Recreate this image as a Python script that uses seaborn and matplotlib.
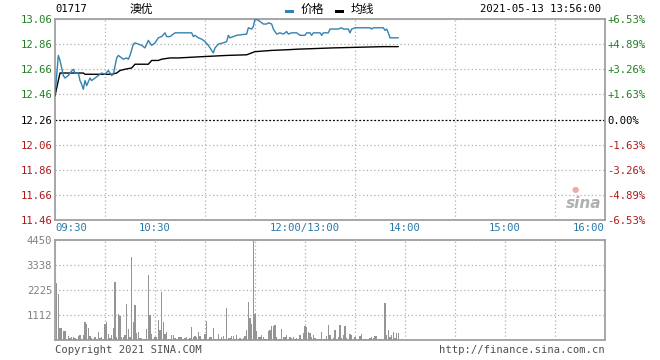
import matplotlib
matplotlib.use("Agg")
import matplotlib.pyplot as plt
import seaborn as sns
from matplotlib.patches import Rectangle

# ----------------------------
# Data
# ----------------------------
prev_close = 12.26

# trading minutes since 09:30 (lunch 12:00-13:00 removed)
price_min = [0, 2, 3, 5, 6, 8, 9, 11, 12, 14, 15, 16, 17, 18, 19, 21, 22, 24, 26, 28,
             30, 32, 34, 35, 37, 38, 41, 43, 44, 45, 47, 48, 50, 52, 54, 56, 58, 60, 62, 64,
             66, 67, 69, 72, 82, 83, 84, 86, 88, 90, 92, 94, 95, 96, 98, 101, 103, 104, 105, 109,
             115, 116, 118, 119, 120, 122, 125, 127, 128, 130, 131, 133, 135, 137, 139, 140, 142, 145, 147, 150,
             151, 153, 154, 155, 159, 160, 161, 164, 165, 170, 172, 173, 176, 177, 178, 180, 189, 190, 191, 197,
             198, 199, 200, 201, 206]
price_val = [12.45, 12.77, 12.73, 12.61, 12.59, 12.61, 12.63, 12.66, 12.63, 12.63, 12.57, 12.54, 12.50, 12.57, 12.53, 12.59, 12.57, 12.59, 12.61, 12.63,
             12.62, 12.65, 12.61, 12.62, 12.75, 12.77, 12.74, 12.75, 12.74, 12.77, 12.86, 12.87, 12.86, 12.85, 12.83, 12.89, 12.85, 12.87, 12.91, 12.92,
             12.95, 12.92, 12.92, 12.95, 12.95, 12.92, 12.93, 12.91, 12.90, 12.88, 12.85, 12.81, 12.79, 12.83, 12.86, 12.87, 12.88, 12.93, 12.91, 12.93,
             12.94, 12.99, 12.98, 13.00, 13.06, 13.05, 13.02, 13.02, 13.03, 13.02, 12.98, 12.94, 12.95, 12.94, 12.96, 12.94, 12.95, 12.95, 12.93, 12.93,
             12.95, 12.95, 12.93, 12.95, 12.95, 12.93, 12.95, 12.95, 12.98, 12.98, 12.99, 12.98, 12.98, 12.95, 12.98, 12.99, 12.99, 12.98, 12.99, 12.99,
             12.97, 12.98, 12.95, 12.91, 12.91]

avg_min = [0, 3, 17, 18, 34, 37, 39, 42, 46, 48, 56, 58, 62, 64, 69, 74, 88, 103, 115, 120,
           130, 139, 146, 167, 197, 206]
avg_val = [12.45, 12.63, 12.63, 12.62, 12.62, 12.63, 12.65, 12.66, 12.67, 12.70, 12.70, 12.73, 12.73, 12.74, 12.75, 12.75, 12.76, 12.77, 12.775, 12.80,
           12.81, 12.815, 12.82, 12.83, 12.84, 12.84]

# volume per minute, minutes 1..206
vol = [2550, 2050, 550, 550, 415, 415, 40, 180, 75, 120,
       150, 90, 40, 180, 220, 60, 220, 800, 710, 550,
       190, 100, 60, 150, 60, 370, 75, 120, 40, 710,
       800, 270, 100, 240, 530, 2580, 120, 1160, 1080, 120,
       150, 220, 1600, 490, 120, 3690, 800, 1560, 300, 360,
       100, 75, 45, 45, 500, 2890, 1110, 250, 45, 150,
       150, 890, 445, 2140, 800, 250, 360, 40, 40, 220,
       220, 75, 40, 130, 130, 130, 60, 100, 150, 45,
       75, 560, 120, 190, 150, 360, 190, 60, 45, 250,
       845, 60, 120, 120, 530, 60, 45, 250, 45, 150,
       180, 45, 1410, 90, 90, 180, 180, 45, 220, 45,
       75, 40, 100, 180, 445, 1680, 960, 710, 4450, 1160,
       415, 120, 150, 220, 120, 45, 40, 400, 445, 620,
       620, 670, 150, 45, 40, 490, 150, 120, 240, 60,
       150, 90, 150, 60, 90, 45, 220, 45, 300, 620,
       560, 370, 300, 120, 220, 75, 45, 45, 45, 360,
       45, 45, 180, 670, 220, 45, 75, 445, 45, 150,
       670, 75, 220, 620, 100, 60, 270, 240, 45, 150,
       45, 60, 190, 270, 45, 45, 60, 45, 90, 150,
       100, 180, 180, 60, 45, 45, 45, 1660, 220, 445,
       120, 220, 340, 75, 300, 300]
vol_min = list(range(1, len(vol) + 1))

y_ticks = [11.46, 11.66, 11.86, 12.06, 12.26, 12.46, 12.66, 12.86, 13.06]
pct_labels = ["-6.53%", "-4.89%", "-3.26%", "-1.63%", "0.00%",
              "+1.63%", "+3.26%", "+4.89%", "+6.53%"]
x_tick_pos = [0, 60, 150, 210, 270, 330]
x_tick_labels = ["09:30", "10:30", "12:00/13:00", "14:00", "15:00", "16:00"]
vol_ticks = [1112, 2225, 3338, 4450]

# ----------------------------
# Style
# ----------------------------
sns.set_theme(style="white")
plt.rcParams["font.family"] = ["DejaVu Sans Mono", "Noto Sans CJK SC"]

W, H = 660, 360
GREEN = "#208020"
RED = "#b01818"
BLUE_TXT = "#2878a8"
PRICE_C = "#3382b0"
GRID_C = "#b0b0b0"
SPINE_C = "#a0a0a0"
FS = 7.6


def fx(px):
    return px / W


def fy(py):
    return 1 - py / H


def label_color(v):
    if abs(v - prev_close) < 1e-6:
        return "black"
    return GREEN if v > prev_close else RED


def style_box(a):
    for s in a.spines.values():
        s.set_color(SPINE_C)
        s.set_linewidth(1.3)
    a.tick_params(length=0)


fig = plt.figure(figsize=(6.6, 3.6), dpi=100)
fig.patch.set_facecolor("white")

# ----------------------------
# Price panel
# ----------------------------
ax = fig.add_axes([fx(55), fy(220), fx(550), 201 / H])
ax.set_xlim(0, 330)
ax.set_ylim(11.46, 13.06)
style_box(ax)

ax.set_xticks(range(0, 331, 30), minor=True)
ax.xaxis.grid(True, which="minor", color=GRID_C, linestyle=(0, (1, 2)), linewidth=0.9)
for v in y_ticks:
    if abs(v - prev_close) < 1e-6:
        ax.axhline(v, color="black", linestyle=(0, (1.5, 1.5)), linewidth=0.9, zorder=2)
    else:
        ax.axhline(v, color=GRID_C, linestyle=(0, (1, 2)), linewidth=0.9, zorder=1)

sns.lineplot(x=price_min, y=price_val, ax=ax, color=PRICE_C, linewidth=1.0,
             estimator=None, sort=False, zorder=4)
sns.lineplot(x=avg_min, y=avg_val, ax=ax, color="black", linewidth=1.0,
             estimator=None, sort=False, zorder=3)

ax.set_yticks(y_ticks)
ax.set_yticklabels([f"{v:.2f}" for v in y_ticks], fontsize=FS)
for lab, v in zip(ax.get_yticklabels(), y_ticks):
    lab.set_color(label_color(v))
ax.tick_params(axis="y", pad=2)

ax.set_xticks(x_tick_pos)
ax.set_xticklabels(x_tick_labels, fontsize=FS, color=BLUE_TXT)
ax.tick_params(axis="x", which="both", pad=2, length=0)
xl = ax.get_xticklabels()
xl[0].set_horizontalalignment("left")
xl[-1].set_horizontalalignment("right")
ax.set_xlabel("")
ax.set_ylabel("")

axr = ax.twinx()
axr.set_ylim(11.46, 13.06)
axr.set_yticks(y_ticks)
axr.set_yticklabels(pct_labels, fontsize=FS)
for lab, v in zip(axr.get_yticklabels(), y_ticks):
    lab.set_color(label_color(v))
axr.tick_params(length=0, pad=1.5)
for s in axr.spines.values():
    s.set_visible(False)

# sina watermark
ax.text(317, 11.53, "sina", fontsize=11, fontstyle="italic", fontweight="bold",
        color="#b0b0b0", family="DejaVu Sans", ha="center", va="bottom", zorder=5)
ax.text(312, 11.67, "●", fontsize=6, color="#f0a8a8", family="DejaVu Sans",
        ha="center", va="bottom", zorder=5)

# ----------------------------
# Volume panel
# ----------------------------
axv = fig.add_axes([fx(55), fy(340), fx(550), 100 / H])
axv.set_xlim(0, 330)
axv.set_ylim(0, 4450)
style_box(axv)
axv.set_xticks(range(0, 331, 30), minor=True)
axv.set_xticks([])
axv.xaxis.grid(True, which="minor", color=GRID_C, linestyle=(0, (1, 2)), linewidth=0.9)
axv.set_yticks(vol_ticks)
axv.set_yticklabels([str(v) for v in vol_ticks], fontsize=FS, color="#808080")
axv.yaxis.grid(True, color=GRID_C, linestyle=(0, (1, 2)), linewidth=0.9)
axv.tick_params(axis="y", pad=2)
axv.bar(vol_min, vol, width=0.7, color="#959595", linewidth=0, antialiased=False, zorder=3)

# ----------------------------
# Header / footer texts
# ----------------------------
fig.text(fx(55), fy(9), "01717", fontsize=FS, color="black", va="center", ha="left")
fig.text(fx(130), fy(9), "澳优", fontsize=8.5, color="black", va="center", ha="left",
         family=["Noto Sans CJK SC", "DejaVu Sans"])
fig.patches.append(Rectangle((fx(285), fy(12.5)), fx(9), 3 / H, transform=fig.transFigure,
                             color=PRICE_C, linewidth=0))
fig.text(fx(301), fy(9), "价格", fontsize=8.5, color="black", va="center", ha="left",
         family=["Noto Sans CJK SC", "DejaVu Sans"])
fig.patches.append(Rectangle((fx(335), fy(12.5)), fx(9), 3 / H, transform=fig.transFigure,
                             color="black", linewidth=0))
fig.text(fx(351), fy(9), "均线", fontsize=8.5, color="black", va="center", ha="left",
         family=["Noto Sans CJK SC", "DejaVu Sans"])
fig.text(fx(601), fy(9), "2021-05-13 13:56:00", fontsize=FS, color="black",
         va="center", ha="right")

fig.text(fx(55), fy(350), "Copyright 2021 SINA.COM", fontsize=FS, color="#505050",
         va="center", ha="left")
fig.text(fx(605), fy(350), "http://finance.sina.com.cn", fontsize=FS, color="#505050",
         va="center", ha="right")

fig.savefig("out.png", dpi=100, facecolor="white")
